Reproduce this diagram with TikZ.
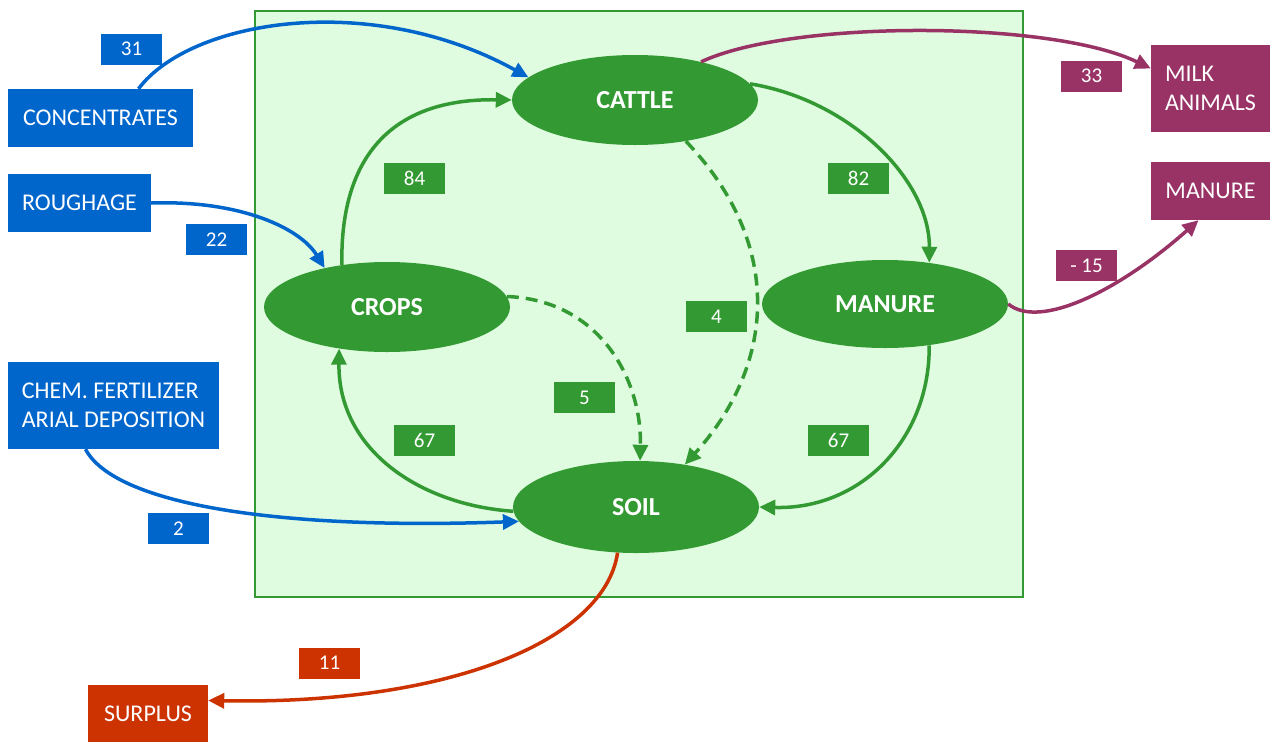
\documentclass[tikz,border=0pt]{standalone}
\usepackage{fontspec}
\setmainfont{Carlito}
\usetikzlibrary{shapes.geometric,arrows.meta}
\definecolor{cblue}{HTML}{0066CC}
\definecolor{cgreen}{HTML}{339933}
\definecolor{clight}{HTML}{E0FCE0}
\definecolor{cpurple}{HTML}{993366}
\definecolor{cred}{HTML}{CC3300}
\begin{document}
\begin{tikzpicture}[x=1pt,y=-1pt,
  ell/.style={ellipse, fill=cgreen, text=white, font=\fontsize{26}{30}\selectfont\bfseries, minimum width=246pt, minimum height=90pt, inner sep=0pt},
  ext/.style={rectangle, text=white, font=\fontsize{24}{29}\selectfont, inner sep=0pt},
  lab/.style={rectangle, text=white, font=\fontsize{21}{24}\selectfont, minimum width=61pt, minimum height=31pt, inner sep=0pt},
  flow/.style={line width=3.5pt, -{Triangle[length=16pt,width=15pt]}},
  dsh/.style={dash pattern=on 12pt off 7pt}]
\useasboundingbox (0,0) rectangle (1281,742);
\node[draw=cgreen, line width=2pt, fill=clight, minimum width=768pt, minimum height=586pt, inner sep=0pt] (farm) at (639,304) {};

% ellipses
\node[ell] (cattle) at (635,100) {CATTLE};
\node[ell] (crops) at (387,307) {CROPS};
\node[ell, minimum height=88pt] (manure) at (885,304) {MANURE};
\node[ell, minimum height=92pt] (soil) at (636,507) {SOIL};

% external boxes
\node[ext, fill=cblue, minimum width=185pt, minimum height=58pt] (conc) at (100.5,118) {CONCENTRATES};
\node[ext, fill=cblue, minimum width=143pt, minimum height=58pt] (rough) at (79.5,203) {ROUGHAGE};
\node[ext, fill=cblue, minimum width=211pt, minimum height=87pt, align=left] (chem) at (113.5,405.5) {CHEM. FERTILIZER\\ARIAL DEPOSITION};
\node[ext, fill=cred, minimum width=120pt, minimum height=57pt] (surplus) at (148,713.5) {SURPLUS};
\node[ext, fill=cpurple, minimum width=119pt, minimum height=87pt, align=left] (milk) at (1210.5,88.5) {MILK\\ANIMALS};
\node[ext, fill=cpurple, minimum width=119pt, minimum height=58pt] (mbox) at (1210.5,191) {MANURE};

% connectors
\draw[flow, cblue] ([xshift=38pt]conc.north) .. controls (190,20) and (370,-10) .. (cattle.168);
\draw[flow, cblue] (rough.east) .. controls (240,200) and (300,228) .. (crops.148);
\draw[flow, cblue] ([xshift=-28pt]chem.south) .. controls (115,505) and (280,530) .. (soil.187);
\draw[flow, cgreen] (crops.137) .. controls (340,170) and (380,98) .. (cattle.west);
\draw[flow, cgreen] (cattle.8) .. controls (850,100) and (930,180) .. (manure.43);
\draw[flow, cgreen] (manure.317) .. controls (930,440) and (860,510) .. (soil.east);
\draw[flow, cgreen] (soil.182) .. controls (420,505) and (338,450) .. (crops.221);
\draw[flow, cgreen, dsh] (cattle.321) .. controls (785,245) and (775,365) .. (soil.41);
\draw[flow, cgreen, dsh] (crops.5) .. controls (600,300) and (642,380) .. (soil.85);
\draw[flow, cpurple] (cattle.30) .. controls (790,20) and (1050,20) .. ([yshift=20pt]milk.west);
\draw[flow, cpurple] (manure.east) .. controls (1040,330) and (1120,290) .. ([xshift=-12pt]mbox.south);
\draw[flow, cred] (soil.248) .. controls (605,640) and (450,705) .. ([yshift=13pt]surplus.east);

% labels
\node[lab, fill=cblue] (l31) at (131.5,49) {31};
\node[lab, fill=cblue] (l22) at (216.5,239.5) {22};
\node[lab, fill=cblue] (l2) at (178.5,528.5) {2};
\node[lab, fill=cgreen] (l84) at (414.5,178) {84};
\node[lab, fill=cgreen] (l82) at (858.5,178) {82};
\node[lab, fill=cgreen] (l4) at (716.5,316.5) {4};
\node[lab, fill=cgreen] (l5) at (584.5,397.5) {5};
\node[lab, fill=cgreen] (l67a) at (424.5,440.5) {67};
\node[lab, fill=cgreen] (l67b) at (838.5,440.5) {67};
\node[lab, fill=cpurple] (l33) at (1091.5,76) {33};
\node[lab, fill=cpurple] (l15) at (1086.5,265.5) {- 15};
\node[lab, fill=cred] (l11) at (329.5,663) {11};
\end{tikzpicture}
\end{document}
